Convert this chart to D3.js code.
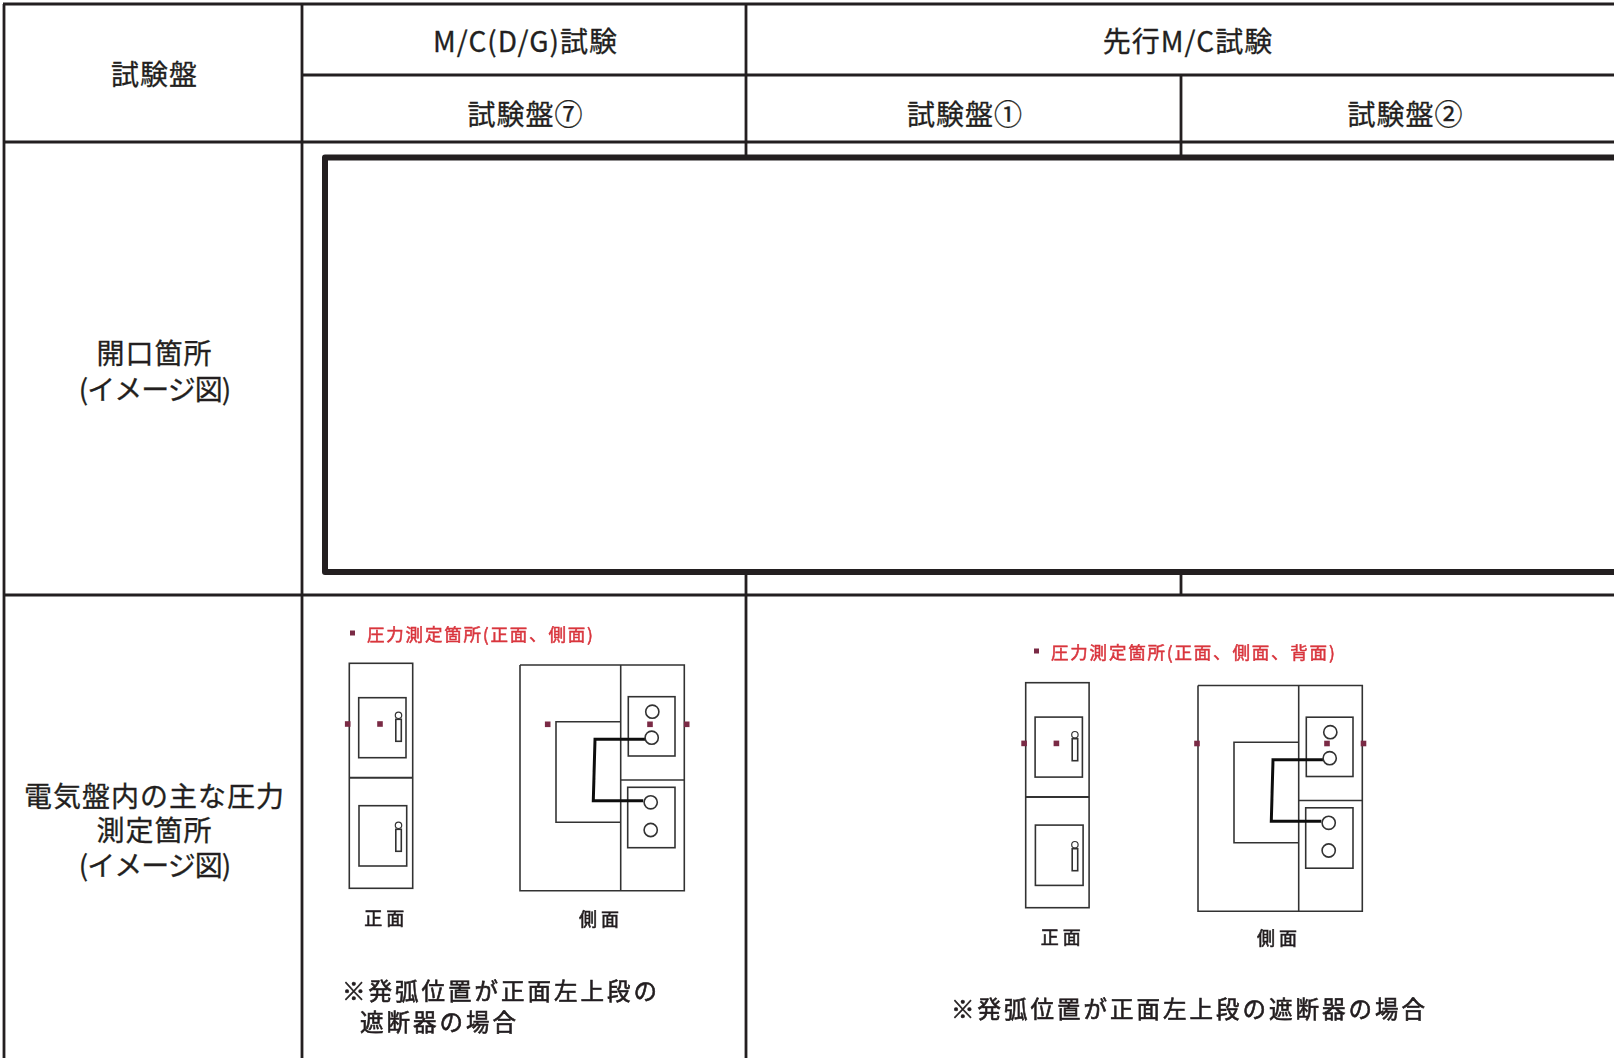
<!DOCTYPE html>
<html lang="ja">
<head>
<meta charset="utf-8">
<script src="https://cdn.jsdelivr.net/npm/d3@7/dist/d3.min.js"></script>
<style>
html,body{margin:0;padding:0;background:#fff;overflow:hidden}
text{font-family:"Noto Sans CJK JP","Noto Sans",sans-serif;fill:#231f20;text-anchor:middle;dominant-baseline:central;stroke:currentColor;stroke-width:.3;color:#231f20}
</style>
</head>
<body>
<svg id="c" width="1614" height="1058"></svg>
<script>
// Table content
const columnKeys = ["c0","c1","c2","c3","c4"];
const rowKeys = ["r0","r1","r2","r3"];
const headerCells = [
  {t:"試験盤", c:["c0","c1"], r:["r0","r2"]},
  {t:"M/C(D/G)試験", c:["c1","c2"], r:["r0","r1"]},
  {t:"先行M/C試験", c:["c2","c4"], r:["r0","r1"]},
  {t:"試験盤⑦", c:["c1","c2"], r:["r1","r2"]},
  {t:"試験盤①", c:["c2","c3"], r:["r1","r2"]},
  {t:"試験盤②", c:["c3","c4"], r:["r1","r2"]}
];
const rowLabel1 = ["開口箇所","(イメージ図)"];
const rowLabel2 = ["電気盤内の主な圧力","測定箇所","(イメージ図)"];
const titleLeft = "圧力測定箇所(正面、側面)";
const titleRight = "圧力測定箇所(正面、側面、背面)";
const viewNames = ["正面","側面"];
const noteLeft = ["※発弧位置が正面左上段の","遮断器の場合"];
const noteRight = ["※発弧位置が正面左上段の遮断器の場合"];

// Schematic in its own units: front view
const frontRects = [[0,0,63.4,225],[9.4,34.4,47.3,60],[9.7,142.4,47.7,60.3],[46.5,56,5.5,22],[46.5,166,5.5,22]];
const frontLines = [[[0,114.4],[63.4,114.4]]];
const frontCircles = [[49.2,52],[49.2,162]];
const frontMarks = [[-1.6,60.7],[30.7,60.7]];
// Side view
const sideLines = [
  [[0,0],[164.3,0],[164.3,225.7],[0,225.7],[0,0]],
  [[100.7,0],[100.7,225.7]],
  [[100.7,56.7],[36,56.7],[36,157.3],[100.7,157.3]],
  [[100.7,115],[164.3,115]]
];
const sideRects = [[108.3,31.7,46.7,59.3],[107.7,122.3,47.3,60.4]];
const sideCircles = [[132.3,46.7],[131.7,72.7],[130.7,137.3],[130.7,165]];
const sideWire = [[125,74.3],[75,74.3],[73.3,135.7],[123.3,135.7]];
const sideMarksLeft = [[27.7,59.3],[130,59.3],[166.7,59.3]];
const sideMarksRight = [[-1,58],[129,58],[165.5,58]];

const x = d3.scaleOrdinal().domain(columnKeys).range([4,302,746,1181,1627]);
const y = d3.scaleOrdinal().domain(rowKeys).range([4,75,142,595]);
const svg = d3.select("#c");
const defs = svg.append("defs");
defs.append("filter").attr("id","soft").attr("x","-5%").attr("y","-5%").attr("width","110%").attr("height","110%")
  .append("feGaussianBlur").attr("stdDeviation",0.6);

const ink = "#231f20";
const W = 2.8;
const rule = (g,a,b,c,d,w)=>g.append("line").attr("x1",a).attr("y1",b).attr("x2",c).attr("y2",d).attr("stroke",ink).attr("stroke-width",w);

// Table rules
const grid = svg.append("g");
rule(grid,x("c0")-1,y("r0"),1614,y("r0"),W);
rule(grid,x("c1"),y("r1"),1614,y("r1"),W);
rule(grid,x("c0")-1,y("r2"),1614,y("r2"),W);
rule(grid,x("c0")-1,y("r3"),1614,y("r3"),W);
rule(grid,x("c0"),y("r0"),x("c0"),1058,W);
rule(grid,x("c1"),y("r0"),x("c1"),1058,W);
rule(grid,x("c2"),y("r0"),x("c2"),1058,W);
rule(grid,x("c3"),y("r1"),x("c3"),y("r3"),W);

// Opening frame (covers the middle of the rules and has no visible right edge)
svg.append("path")
  .attr("d",d3.line()([[1640,157.5],[325,157.5],[325,572],[1640,572]]))
  .attr("fill","#fff").attr("stroke",ink).attr("stroke-width",6).attr("stroke-linejoin","round");

// Header and row labels
const mid = (a,b)=>(a+b)/2;
svg.append("g").selectAll("text").data(headerCells).join("text")
  .attr("x",d=>mid(x(d.c[0]),x(d.c[1]))+1.5)
  .attr("y",d=>mid(y(d.r[0]),y(d.r[1]))+(d.r[0]==="r1"?4:0))
  .attr("font-size",28).attr("letter-spacing",1).text(d=>d.t);

const labelX = 154.5;
const spacing = d=>d.startsWith("(")?-1:1;
svg.append("g").selectAll("text").data(rowLabel1).join("text")
  .attr("x",labelX).attr("y",(d,i)=>352+i*36).attr("font-size",28).attr("letter-spacing",spacing).text(d=>d);
svg.append("g").selectAll("text").data(rowLabel2).join("text")
  .attr("x",labelX).attr("y",(d,i)=>794.5+i*34.5).attr("font-size",28).attr("letter-spacing",spacing).text(d=>d);

// One schematic instance
function schematic(o){
  const g = svg.append("g").attr("filter","url(#soft)");
  const fx = d3.scaleLinear().domain([0,1]).range([o.fx,o.fx+1]);
  const fy = d3.scaleLinear().domain([0,1]).range([o.fy,o.fy+1]);
  const sx = d3.scaleLinear().domain([0,1]).range([o.sx,o.sx+1]);
  const sy = d3.scaleLinear().domain([0,1]).range([o.sy,o.sy+1]);
  const stroke = "#333";
  g.selectAll(null).data(frontRects).join("rect")
    .attr("x",d=>fx(d[0])).attr("y",d=>fy(d[1])).attr("width",d=>d[2]).attr("height",d=>d[3])
    .attr("fill","none").attr("stroke",stroke).attr("stroke-width",1.6);
  g.selectAll(null).data(frontLines).join("path")
    .attr("d",d3.line().x(d=>fx(d[0])).y(d=>fy(d[1]))).attr("stroke",stroke).attr("stroke-width",2).attr("fill","none");
  g.selectAll(null).data(frontCircles).join("circle")
    .attr("cx",d=>fx(d[0])).attr("cy",d=>fy(d[1])).attr("r",3.2).attr("fill","#fff").attr("stroke",stroke).attr("stroke-width",1.2);
  g.selectAll(null).data(sideLines).join("path")
    .attr("d",d3.line().x(d=>sx(d[0])).y(d=>sy(d[1]))).attr("stroke",stroke).attr("stroke-width",1.6).attr("fill","none");
  g.selectAll(null).data(sideRects).join("rect")
    .attr("x",d=>sx(d[0])).attr("y",d=>sy(d[1])).attr("width",d=>d[2]).attr("height",d=>d[3])
    .attr("fill","#fff").attr("stroke",stroke).attr("stroke-width",1.6);
  g.append("path").datum(sideWire)
    .attr("d",d3.line().x(d=>sx(d[0])).y(d=>sy(d[1]))).attr("stroke","#111").attr("stroke-width",3).attr("fill","none");
  g.selectAll(null).data(sideCircles).join("circle")
    .attr("cx",d=>sx(d[0])).attr("cy",d=>sy(d[1])).attr("r",6.6).attr("fill","#fff").attr("stroke",stroke).attr("stroke-width",1.6);
  const mark = "#7a2a45";
  g.selectAll(null).data(frontMarks).join("rect")
    .attr("x",d=>fx(d[0])-2.8).attr("y",d=>fy(d[1])-2.8).attr("width",5.6).attr("height",5.6).attr("fill",mark);
  g.selectAll(null).data(o.sideMarks).join("rect")
    .attr("x",d=>sx(d[0])-2.8).attr("y",d=>sy(d[1])-2.8).attr("width",5.6).attr("height",5.6).attr("fill",mark);
  g.append("rect").attr("x",o.tx-17).attr("y",o.ty-2.5).attr("width",5).attr("height",5).attr("fill",mark);
  g.append("text").attr("x",o.tx).attr("y",o.ty).attr("font-size",17.5).attr("letter-spacing",1.8)
    .style("text-anchor","start").style("fill","#d9363e").style("color","#d9363e").style("stroke-width",.5).text(o.title);
  g.append("text").attr("x",fx(37)).attr("y",fy(253.7)).attr("font-size",18).attr("letter-spacing",4).style("stroke-width",.6).text(viewNames[0]);
  g.append("text").attr("x",sx(81)).attr("y",sy(o.sideLabelY)).attr("font-size",18).attr("letter-spacing",4).style("stroke-width",.6).text(viewNames[1]);
  g.selectAll(null).data(o.note).join("text")
    .attr("x",(d,i)=>o.nx+(i?o.nIndent:0)).attr("y",(d,i)=>o.ny+i*31.5).attr("font-size",23.5).attr("letter-spacing",3)
    .style("text-anchor","start").style("stroke-width",.6).text(d=>d);
}
schematic({fx:349.3,fy:663.3,sx:520,sy:665,tx:367,ty:633,title:titleLeft,sideMarks:sideMarksLeft,sideLabelY:253,note:noteLeft,nx:342,ny:989.5,nIndent:18});
schematic({fx:1025.7,fy:682.7,sx:1198,sy:685.5,tx:1051,ty:651,title:titleRight,sideMarks:sideMarksRight,sideLabelY:251,note:noteRight,nx:951,ny:1008,nIndent:0});
</script>
</body>
</html>
